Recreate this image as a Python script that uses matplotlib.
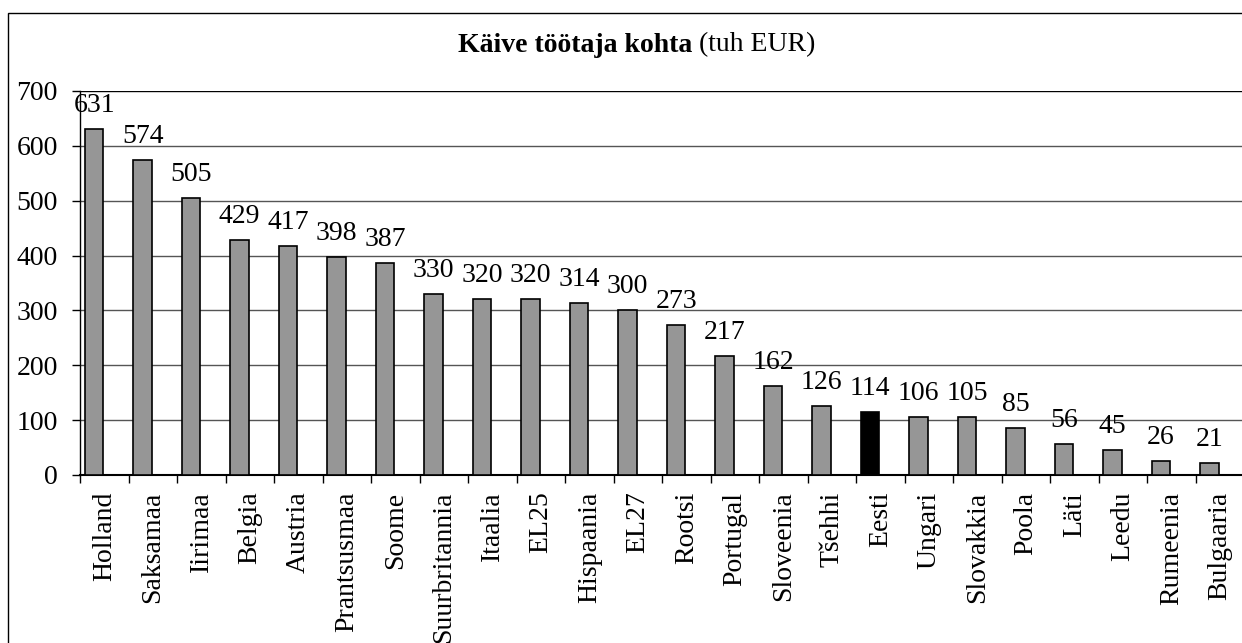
import matplotlib
matplotlib.use("Agg")
import matplotlib.pyplot as plt
import numpy as np
from matplotlib.patches import Rectangle

categories = ["Holland", "Saksamaa", "Iirimaa", "Belgia", "Austria", "Prantsusmaa",
              "Soome", "Suurbritannia", "Itaalia", "EL25", "Hispaania", "EL27",
              "Rootsi", "Portugal", "Sloveenia", "Tšehhi", "Eesti", "Ungari",
              "Slovakkia", "Poola", "Läti", "Leedu", "Rumeenia", "Bulgaaria"]
values = [631, 574, 505, 429, 417, 398, 387, 330, 320, 320, 314, 300,
          273, 217, 162, 126, 114, 106, 105, 85, 56, 45, 26, 21]
highlight = "Eesti"
yticks = [0, 100, 200, 300, 400, 500, 600, 700]

plt.rcParams['font.family'] = ['Liberation Serif', 'DejaVu Serif']
FS = 20
W, H = 1242, 643
fig = plt.figure(figsize=(W/100, H/100), dpi=100)

# outer frame
fig.patches.append(Rectangle((8/W, -0.1), 2.0, (H-13)/H + 0.1, transform=fig.transFigure,
                             fill=False, edgecolor='black', linewidth=1.0))

ax = fig.add_axes([80/W, (H-475)/H, 1164/W, 384/H])
n = len(categories)
x = np.arange(n)
colors = ['black' if c == highlight else '#969696' for c in categories]
offset = -0.21
ax.bar(x + offset, values, width=0.38, color=colors, edgecolor='black', linewidth=1.2, zorder=3)

for xi, v in zip(x, values):
    ax.annotate(str(v), (xi + offset, v), xytext=(0, 8), textcoords='offset points',
                ha='center', va='bottom', fontsize=FS, zorder=4)

ax.set_xlim(-0.5, n - 0.5)
ax.set_ylim(0, 700)
ax.set_yticks(yticks)
ax.set_yticklabels([str(t) for t in yticks], fontsize=FS)
for t in yticks[1:]:
    ax.axhline(t, color='black' if t == 700 else '#555555', linewidth=1.0, zorder=1)

ax.set_xticks(x - 0.5, minor=False)
ax.set_xticklabels([])
ax.set_xticks(x, minor=True)
ax.set_xticklabels(categories, minor=True, rotation=90, fontsize=FS, va='top', ha='center')
ax.tick_params(axis='x', which='major', length=6, direction='out', width=1)
ax.tick_params(axis='x', which='minor', length=0, pad=12)
ax.tick_params(axis='y', length=6, direction='out', width=1, pad=10)

for s in ['top', 'right']:
    ax.spines[s].set_visible(False)
ax.spines['left'].set_linewidth(1.0)
ax.spines['bottom'].set_linewidth(1.5)

# title with bold and normal parts
fig.canvas.draw()
r = fig.canvas.get_renderer()
ty = 1 - 45/H
t1 = fig.text(0, ty, "Käive töötaja kohta", fontsize=FS, fontweight='bold', va='center', ha='left')
t2 = fig.text(0, ty, " (tuh EUR)", fontsize=FS, va='center', ha='left')
w1 = t1.get_window_extent(r).width
w2 = t2.get_window_extent(r).width
start = 637 - (w1 + w2) / 2
t1.set_x(start / W)
t2.set_x((start + w1) / W)

fig.savefig("out.png", dpi=100)
